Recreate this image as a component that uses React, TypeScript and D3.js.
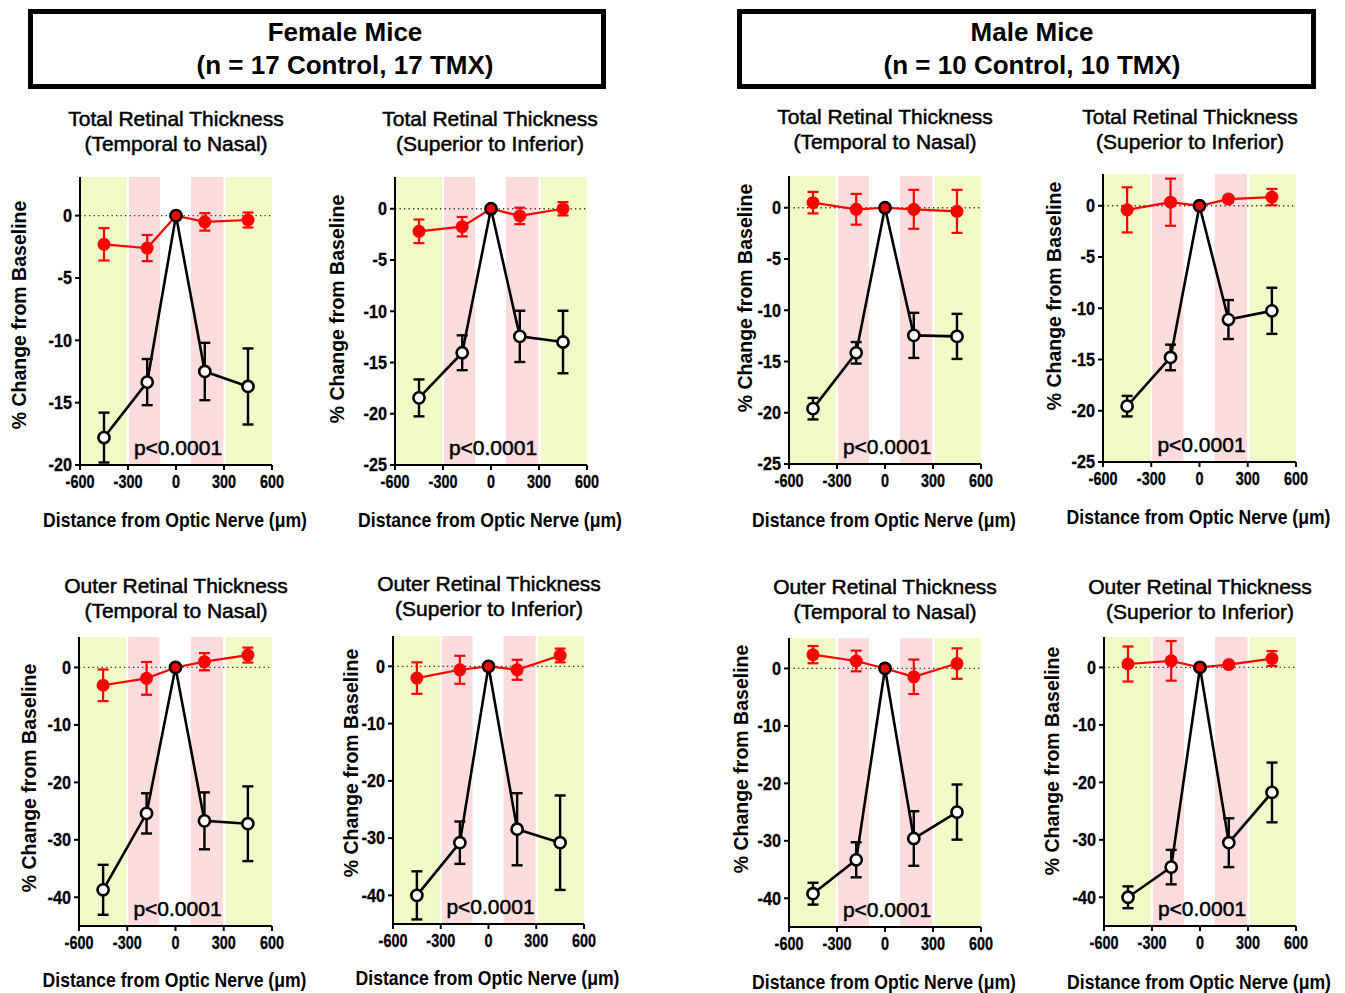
import React from "react";
import * as d3 from "d3";

// distances from optic nerve (µm)
const distances = [-450, -180, 0, 180, 450];
const xTicks = [-600, -300, 0, 300, 600];
const totalTicks = [0, -5, -10, -15, -20, -25];
const totalTicksFemaleTN = [0, -5, -10, -15, -20];
const outerTicks = [0, -10, -20, -30, -40];

// red = Control, black = TMX ; values are % change from baseline, errors are +/- bars
const femaleTotalTNCtrl = [-2.3, -2.6, 0, -0.5, -0.35];
const femaleTotalTNCtrlErr = [1.3, 1.05, 0, 0.7, 0.6];
const femaleTotalTNTmx = [-17.8, -13.35, 0, -12.5, -13.7];
const femaleTotalTNTmxErr = [2.0, 1.85, 0, 2.3, 3.05];

const femaleTotalSICtrl = [-2.2, -1.75, 0, -0.7, 0];
const femaleTotalSICtrlErr = [1.15, 0.95, 0, 0.8, 0.65];
const femaleTotalSITmx = [-18.45, -14.05, 0, -12.45, -13.0];
const femaleTotalSITmxErr = [1.8, 1.7, 0, 2.5, 3.05];

const maleTotalTNCtrl = [0.5, -0.15, 0, -0.15, -0.35];
const maleTotalTNCtrlErr = [1.05, 1.5, 0, 1.9, 2.1];
const maleTotalTNTmx = [-19.6, -14.15, 0, -12.45, -12.55];
const maleTotalTNTmxErr = [1.05, 1.05, 0, 2.2, 2.2];

const maleTotalSICtrl = [-0.4, 0.35, 0, 0.65, 0.85];
const maleTotalSICtrlErr = [2.2, 2.3, 0, 0.3, 0.8];
const maleTotalSITmx = [-19.55, -14.8, 0, -11.1, -10.25];
const maleTotalSITmxErr = [1.0, 1.25, 0, 1.9, 2.25];

const femaleOuterTNCtrl = [-3.1, -1.9, 0, 1.0, 2.15];
const femaleOuterTNCtrlErr = [2.75, 2.85, 0, 1.5, 1.3];
const femaleOuterTNTmx = [-38.7, -25.4, 0, -26.7, -27.2];
const femaleOuterTNTmxErr = [4.35, 3.5, 0, 4.95, 6.5];

const femaleOuterSICtrl = [-2.05, -0.6, 0, -0.6, 1.9];
const femaleOuterSICtrlErr = [2.75, 2.45, 0, 1.75, 1.2];
const femaleOuterSITmx = [-40.0, -30.8, 0, -28.45, -30.8];
const femaleOuterSITmxErr = [4.2, 3.7, 0, 6.3, 8.25];

const maleOuterTNCtrl = [2.4, 1.3, 0, -1.45, 0.85];
const maleOuterTNCtrlErr = [1.5, 1.8, 0, 3.0, 2.65];
const maleOuterTNTmx = [-39.2, -33.3, 0, -29.6, -25.0];
const maleOuterTNTmxErr = [1.9, 3.05, 0, 4.75, 4.8];

const maleOuterSICtrl = [0.6, 1.15, 0, 0.5, 1.55];
const maleOuterSICtrlErr = [3.05, 3.45, 0, 0.4, 1.3];
const maleOuterSITmx = [-40.0, -34.75, 0, -30.5, -21.75];
const maleOuterSITmxErr = [1.9, 3.0, 0, 4.25, 5.2];

// shaded retinal regions (µm)
const yellowBands = [[-600, -306], [311, 600]];
const pinkBands = [[-294, -100], [94, 296]];

const FONT = "Arial, 'Liberation Sans', sans-serif";
const RED = "#ff0000";

const panels = [
  { title: ["Total Retinal Thickness", "(Temporal to Nasal)"], ticks: totalTicksFemaleTN, yMin: -20, yMax: 3.1,
    ctrl: femaleTotalTNCtrl, ctrlErr: femaleTotalTNCtrlErr, tmx: femaleTotalTNTmx, tmxErr: femaleTotalTNTmxErr,
    left: 80, right: 272, top: 177, bottom: 465, tx: 176, ty: 118, xtY: 520, ytX: 19, ytY: 315 },
  { title: ["Total Retinal Thickness", "(Superior to Inferior)"], ticks: totalTicks, yMin: -25, yMax: 3.1,
    ctrl: femaleTotalSICtrl, ctrlErr: femaleTotalSICtrlErr, tmx: femaleTotalSITmx, tmxErr: femaleTotalSITmxErr,
    left: 395, right: 587, top: 177, bottom: 465, tx: 490, ty: 118, xtY: 520, ytX: 337, ytY: 309 },
  { title: ["Total Retinal Thickness", "(Temporal to Nasal)"], ticks: totalTicks, yMin: -25, yMax: 3.1,
    ctrl: maleTotalTNCtrl, ctrlErr: maleTotalTNCtrlErr, tmx: maleTotalTNTmx, tmxErr: maleTotalTNTmxErr,
    left: 789, right: 981, top: 176, bottom: 464, tx: 885, ty: 116, xtY: 520, ytX: 745, ytY: 298 },
  { title: ["Total Retinal Thickness", "(Superior to Inferior)"], ticks: totalTicks, yMin: -25, yMax: 3.1,
    ctrl: maleTotalSICtrl, ctrlErr: maleTotalSICtrlErr, tmx: maleTotalSITmx, tmxErr: maleTotalSITmxErr,
    left: 1103, right: 1296, top: 174, bottom: 462, tx: 1190, ty: 116, xtY: 517, ytX: 1054, ytY: 296 },
  { title: ["Outer Retinal Thickness", "(Temporal to Nasal)"], ticks: outerTicks, yMin: -45, yMax: 5.3,
    ctrl: femaleOuterTNCtrl, ctrlErr: femaleOuterTNCtrlErr, tmx: femaleOuterTNTmx, tmxErr: femaleOuterTNTmxErr,
    left: 79, right: 272, top: 637, bottom: 926, tx: 176, ty: 585, xtY: 980, ytX: 29, ytY: 778 },
  { title: ["Outer Retinal Thickness", "(Superior to Inferior)"], ticks: outerTicks, yMin: -45, yMax: 5.3,
    ctrl: femaleOuterSICtrl, ctrlErr: femaleOuterSICtrlErr, tmx: femaleOuterSITmx, tmxErr: femaleOuterSITmxErr,
    left: 393, right: 584, top: 636, bottom: 924, tx: 489, ty: 583, xtY: 978, ytX: 351, ytY: 763 },
  { title: ["Outer Retinal Thickness", "(Temporal to Nasal)"], ticks: outerTicks, yMin: -45, yMax: 5.3,
    ctrl: maleOuterTNCtrl, ctrlErr: maleOuterTNCtrlErr, tmx: maleOuterTNTmx, tmxErr: maleOuterTNTmxErr,
    left: 789, right: 981, top: 638, bottom: 927, tx: 885, ty: 586, xtY: 982, ytX: 741, ytY: 759 },
  { title: ["Outer Retinal Thickness", "(Superior to Inferior)"], ticks: outerTicks, yMin: -45, yMax: 5.3,
    ctrl: maleOuterSICtrl, ctrlErr: maleOuterSICtrlErr, tmx: maleOuterSITmx, tmxErr: maleOuterSITmxErr,
    left: 1104, right: 1296, top: 637, bottom: 926, tx: 1200, ty: 586, xtY: 982, ytX: 1052, ytY: 761 },
];

const headers = [
  { lines: ["Female Mice", "(n = 17 Control, 17 TMX)"], x0: 28, x1: 606, cx: 345 },
  { lines: ["Male Mice", "(n = 10 Control, 10 TMX)"], x0: 737, x1: 1316, cx: 1032 },
];

// text squeezed horizontally like the source figure
const SText = ({ x, y, sx = 1, anchor = "middle", size, weight = "bold", thick = 0, children }: any) => (
  <text transform={`translate(${x},${y}) scale(${sx},1)`} textAnchor={anchor}
    fontSize={size} fontWeight={weight} fontFamily={FONT} fill="#000"
    stroke={thick ? "#000" : "none"} strokeWidth={thick}>{children}</text>
);

const Panel = ({ p }: any) => {
  const x = d3.scaleLinear().domain([-600, 600]).range([p.left, p.right]);
  const y = d3.scaleLinear().domain([p.yMin, p.yMax]).range([p.bottom, p.top]);
  const line = d3.line<number>().x((_, i) => x(distances[i])).y((d) => y(d));
  const cap = 5.5;

  const errBars = (vals: number[], errs: number[], color: string, w: number) =>
    vals.map((v, i) => errs[i] > 0 && (
      <g key={i} stroke={color} strokeWidth={w}>
        <line x1={x(distances[i])} x2={x(distances[i])} y1={y(v - errs[i])} y2={y(v + errs[i])} />
        <line x1={x(distances[i]) - cap} x2={x(distances[i]) + cap} y1={y(v - errs[i])} y2={y(v - errs[i])} />
        <line x1={x(distances[i]) - cap} x2={x(distances[i]) + cap} y1={y(v + errs[i])} y2={y(v + errs[i])} />
      </g>
    ));

  return (
    <g>
      {yellowBands.map((b, i) => (
        <rect key={"y" + i} x={x(b[0])} width={x(b[1]) - x(b[0])} y={p.top} height={p.bottom - p.top} fill="#f1f9c6" />
      ))}
      {pinkBands.map((b, i) => (
        <rect key={"p" + i} x={x(b[0])} width={x(b[1]) - x(b[0])} y={p.top} height={p.bottom - p.top} fill="#fcdcdc" />
      ))}
      <line x1={p.left} x2={p.right} y1={y(0)} y2={y(0)} stroke="#333" strokeWidth={1.3} strokeDasharray="1.3,3.2" />

      <SText x={x(0) + 2} y={p.bottom - 10} size={21} weight="normal" thick={0.5}>p&lt;0.0001</SText>

      <path d={line(p.tmx) || ""} fill="none" stroke="#000" strokeWidth={2.6} />
      {errBars(p.tmx, p.tmxErr, "#000", 2.4)}
      <path d={line(p.ctrl) || ""} fill="none" stroke={RED} strokeWidth={2.2} />
      {errBars(p.ctrl, p.ctrlErr, RED, 2.2)}
      {p.tmx.map((v: number, i: number) => (
        <circle key={"t" + i} cx={x(distances[i])} cy={y(v)} r={5.5} fill="#fff" stroke="none" />
      ))}
      {p.ctrl.map((v: number, i: number) => (
        <circle key={"c" + i} cx={x(distances[i])} cy={y(v)} r={6.5} fill={RED} />
      ))}
      {p.tmx.map((v: number, i: number) => (
        <circle key={"r" + i} cx={x(distances[i])} cy={y(v)} r={5.6} fill="none" stroke="#000" strokeWidth={2.6} />
      ))}

      {/* axes */}
      <line x1={p.left} x2={p.left} y1={p.top} y2={p.bottom + 1} stroke="#000" strokeWidth={2} />
      <line x1={p.left - 1} x2={p.right} y1={p.bottom} y2={p.bottom} stroke="#000" strokeWidth={2} />
      {p.ticks.map((t: number) => (
        <g key={"yt" + t}>
          <line x1={p.left - 5} x2={p.left} y1={y(t)} y2={y(t)} stroke="#000" strokeWidth={2} />
          <SText x={p.left - 8} y={y(t) + 6.3} size={18} sx={0.9} anchor="end" thick={0.3}>{String(t)}</SText>
        </g>
      ))}
      {xTicks.map((t) => (
        <g key={"xt" + t}>
          <line x1={x(t)} x2={x(t)} y1={p.bottom} y2={p.bottom + 5} stroke="#000" strokeWidth={2} />
          <SText x={x(t)} y={p.bottom + 23} size={18} sx={0.8} thick={0.3}>{String(t)}</SText>
        </g>
      ))}

      <SText x={(p.left + p.right) / 2 - 1} y={p.xtY + 7} size={20} sx={0.88}>Distance from Optic Nerve (μm)</SText>
      <text transform={`translate(${p.ytX + 7},${p.ytY}) rotate(-90)`} textAnchor="middle"
        fontSize={19.5} fontWeight="bold" fontFamily={FONT}>% Change from Baseline</text>

      <SText x={p.tx} y={p.ty + 7.5} size={21} weight="normal" thick={0.5}>{p.title[0]}</SText>
      <SText x={p.tx} y={p.ty + 32.5} size={21} weight="normal" thick={0.5}>{p.title[1]}</SText>
    </g>
  );
};

export default function App() {
  return (
    <svg width={1345} height={993} style={{ position: "absolute", left: 0, top: 0, background: "#fff" }}>
      <rect width={1345} height={993} fill="#fff" />
      {headers.map((h, i) => (
        <g key={i}>
          <rect x={h.x0 + 2.5} y={11.5} width={h.x1 - h.x0 - 5} height={75} fill="none" stroke="#000" strokeWidth={5} />
          <SText x={h.cx} y={41} size={26}>{h.lines[0]}</SText>
          <SText x={h.cx} y={74} size={26}>{h.lines[1]}</SText>
        </g>
      ))}
      {panels.map((p, i) => <Panel key={i} p={p} />)}
    </svg>
  );
}
